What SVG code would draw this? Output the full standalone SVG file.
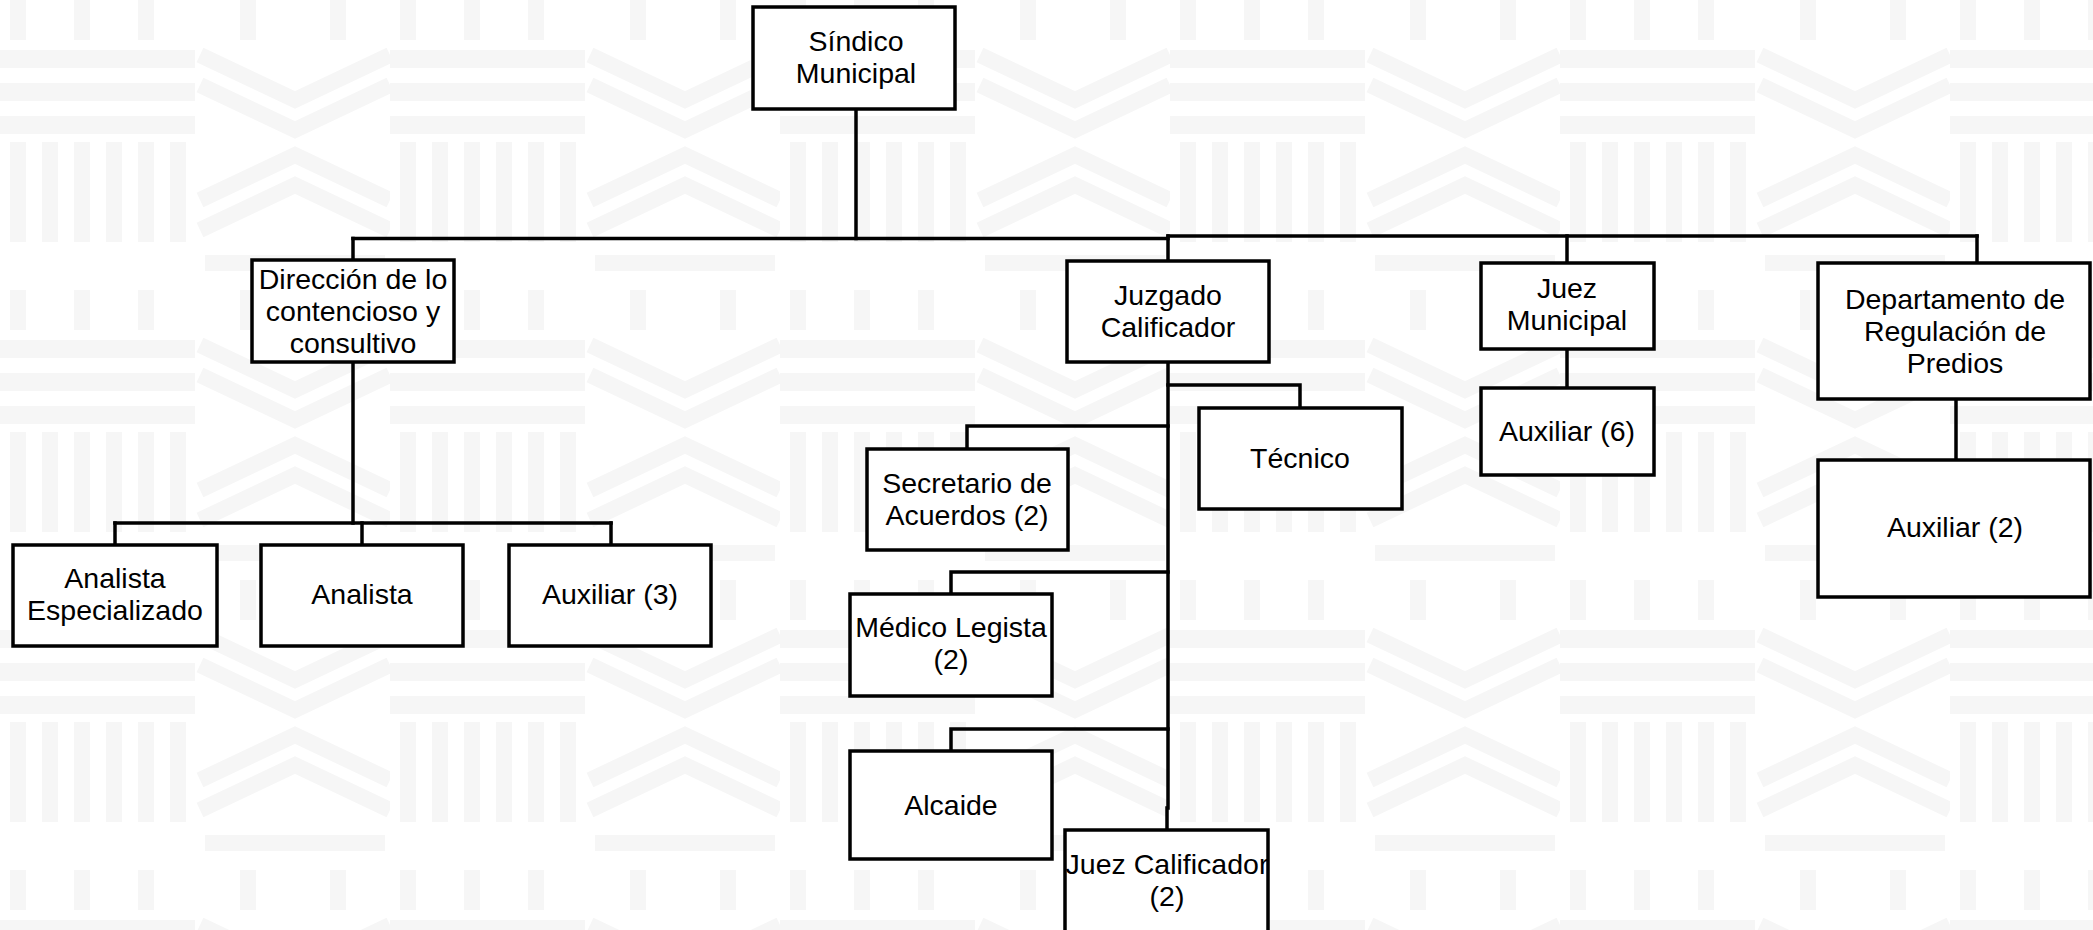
<svg xmlns="http://www.w3.org/2000/svg" width="2093" height="930" viewBox="0 0 2093 930">
<defs>
<style>
.box{fill:#ffffff;stroke:#000000;stroke-width:3.5}
.t{font-family:"Liberation Sans",Arial,sans-serif;font-size:28.5px;fill:#000000;text-anchor:middle;dominant-baseline:central}
.c{fill:none;stroke:#000000;stroke-width:3.5;stroke-linecap:square}
.bg{fill:#f6f6f6}
.bgl{fill:none;stroke:#f6f6f6;stroke-width:16}
</style>
<pattern id="tex" x="0" y="0" width="390" height="290" patternUnits="userSpaceOnUse">
<rect class="bg" x="0" y="50" width="195" height="18"/>
<rect class="bg" x="0" y="83" width="195" height="18"/>
<rect class="bg" x="0" y="116" width="195" height="18"/>
<rect class="bg" x="10" y="142" width="16" height="100"/>
<rect class="bg" x="42" y="142" width="16" height="100"/>
<rect class="bg" x="74" y="142" width="16" height="100"/>
<rect class="bg" x="106" y="142" width="16" height="100"/>
<rect class="bg" x="138" y="142" width="16" height="100"/>
<rect class="bg" x="170" y="142" width="16" height="100"/>
<path class="bgl" d="M200 55 L295 100 L390 55 M200 85 L295 130 L390 85 M200 200 L295 155 L390 200 M200 230 L295 185 L390 230"/>
<rect class="bg" x="205" y="255" width="180" height="16"/>
<rect class="bg" x="10" y="0" width="16" height="40"/>
<rect class="bg" x="74" y="0" width="16" height="40"/>
<rect class="bg" x="138" y="0" width="16" height="40"/>
<rect class="bg" x="240" y="0" width="16" height="40"/>
<rect class="bg" x="330" y="0" width="16" height="40"/>
</pattern>
</defs>
<rect x="0" y="0" width="2093" height="930" fill="#ffffff"/>
<rect x="0" y="0" width="2093" height="930" fill="url(#tex)"/>

<g id="connectors">
<polyline class="c" points="856,110 856,238.5"/>
<polyline class="c" points="353,238.5 1168,238.5"/>
<polyline class="c" points="1168,236 1977,236"/>
<polyline class="c" points="353,238.5 353,259"/>
<polyline class="c" points="1168,236 1168,260"/>
<polyline class="c" points="1567,236 1567,262"/>
<polyline class="c" points="1977,236 1977,262"/>
<polyline class="c" points="353,363 353,523"/>
<polyline class="c" points="115,523 611,523"/>
<polyline class="c" points="115,523 115,544"/>
<polyline class="c" points="362,523 362,544"/>
<polyline class="c" points="611,523 611,544"/>
<polyline class="c" points="1168,363 1168,808 1167,808 1167,829"/>
<polyline class="c" points="1168,385 1300,385 1300,407"/>
<polyline class="c" points="1168,426 967,426 967,448"/>
<polyline class="c" points="1168,572 951,572 951,593"/>
<polyline class="c" points="1168,729 951,729 951,750"/>
<polyline class="c" points="1567,350 1567,387"/>
<polyline class="c" points="1956,400 1956,459"/>
</g>

<g id="sindico">
<rect class="box" x="753" y="7" width="202" height="102"/>
<text class="t" x="856" y="41"><tspan x="856" y="41">Síndico</tspan><tspan x="856" dy="32">Municipal</tspan></text>
</g>
<g id="direccion">
<rect class="box" x="252" y="260" width="202" height="102"/>
<text class="t" x="353" y="279"><tspan x="353" y="279">Dirección de lo</tspan><tspan x="353" dy="32">contencioso y</tspan><tspan x="353" dy="32">consultivo</tspan></text>
</g>
<g id="juzgado">
<rect class="box" x="1067" y="261" width="202" height="101"/>
<text class="t" x="1168" y="295"><tspan x="1168" y="295">Juzgado</tspan><tspan x="1168" dy="32">Calificador</tspan></text>
</g>
<g id="juez-municipal">
<rect class="box" x="1481" y="263" width="173" height="86"/>
<text class="t" x="1567" y="288"><tspan x="1567" y="288">Juez</tspan><tspan x="1567" dy="32">Municipal</tspan></text>
</g>
<g id="departamento">
<rect class="box" x="1818" y="263" width="272" height="136"/>
<text class="t" x="1955" y="299"><tspan x="1955" y="299">Departamento de</tspan><tspan x="1955" dy="32">Regulación de</tspan><tspan x="1955" dy="32">Predios</tspan></text>
</g>
<g id="analista-especializado">
<rect class="box" x="13" y="545" width="204" height="101"/>
<text class="t" x="115" y="578"><tspan x="115" y="578">Analista</tspan><tspan x="115" dy="32">Especializado</tspan></text>
</g>
<g id="analista">
<rect class="box" x="261" y="545" width="202" height="101"/>
<text class="t" x="362" y="594">Analista</text>
</g>
<g id="auxiliar-3">
<rect class="box" x="509" y="545" width="202" height="101"/>
<text class="t" x="610" y="594">Auxiliar (3)</text>
</g>
<g id="secretario">
<rect class="box" x="867" y="449" width="201" height="101"/>
<text class="t" x="967" y="483"><tspan x="967" y="483">Secretario de</tspan><tspan x="967" dy="32">Acuerdos (2)</tspan></text>
</g>
<g id="tecnico">
<rect class="box" x="1199" y="408" width="203" height="101"/>
<text class="t" x="1300" y="458">Técnico</text>
</g>
<g id="auxiliar-6">
<rect class="box" x="1481" y="388" width="173" height="87"/>
<text class="t" x="1567" y="431">Auxiliar (6)</text>
</g>
<g id="auxiliar-2">
<rect class="box" x="1818" y="460" width="272" height="137"/>
<text class="t" x="1955" y="527">Auxiliar (2)</text>
</g>
<g id="medico">
<rect class="box" x="850" y="594" width="202" height="102"/>
<text class="t" x="951" y="627"><tspan x="951" y="627">Médico Legista</tspan><tspan x="951" dy="32">(2)</tspan></text>
</g>
<g id="alcaide">
<rect class="box" x="850" y="751" width="202" height="108"/>
<text class="t" x="951" y="805">Alcaide</text>
</g>
<g id="juez-calificador">
<rect class="box" x="1065" y="830" width="203" height="120"/>
<text class="t" x="1167" y="864"><tspan x="1167" y="864">Juez Calificador</tspan><tspan x="1167" dy="32">(2)</tspan></text>
</g>
</svg>
